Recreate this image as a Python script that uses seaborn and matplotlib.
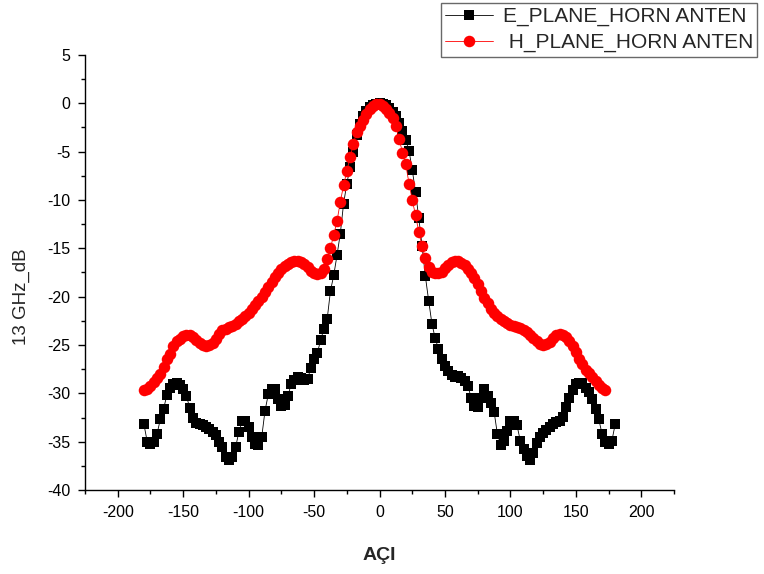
import numpy as np
import pandas as pd
import matplotlib
matplotlib.use("Agg")
import matplotlib.pyplot as plt
import seaborn as sns
from matplotlib.ticker import MultipleLocator

# ---------------- data ----------------
e_angle = [-180.0 + 2.5 * i for i in range(145)]
e_db = [
    -33.2, -35.0, -35.2, -35.0, -34.2, -32.7, -31.6, -30.2, -29.4, -29.0,   # -180 .. -157.5
    -28.9, -29.1, -29.6, -30.3, -31.5, -32.6, -33.1, -33.2, -33.3, -33.5,   # -155 .. -132.5
    -33.7, -34.0, -34.3, -35.0, -35.6, -36.6, -36.9, -36.6, -35.6, -34.0,   # -130 .. -107.5
    -32.9, -32.9, -33.5, -34.5, -35.2, -35.3, -34.5, -31.8, -30.1, -29.5,   # -105 .. -82.5
    -29.5, -30.6, -31.3, -31.2, -30.3, -29.0, -28.6, -28.3, -28.4, -28.6,   # -80 .. -57.5
    -28.5, -27.4, -26.5, -25.8, -24.5, -23.3, -22.3, -19.4, -17.8, -15.7,   # -55 .. -32.5
    -13.5, -10.4, -8.3, -6.6, -5.0, -3.3, -2.1, -1.3, -0.8, -0.4,           # -30 .. -7.5
    -0.2, -0.05, 0.0, -0.05, -0.2, -0.5, -0.9, -1.3, -2.0, -2.9,            # -5 .. 17.5
    -3.8, -4.9, -6.9, -9.2, -11.9, -14.8, -17.9, -20.4, -22.8, -24.3,       # 20 .. 42.5
    -25.4, -26.4, -27.2, -27.7, -28.1, -28.3, -28.2, -28.4, -28.7, -29.2,   # 45 .. 67.5
    -30.5, -31.3, -31.4, -30.5, -29.5, -30.3, -31.0, -31.9, -34.2, -35.3,   # 70 .. 92.5
    -34.9, -33.9, -32.9, -32.9, -33.3, -34.9, -35.8, -36.5, -36.9, -36.2,   # 95 .. 117.5
    -35.1, -34.5, -34.1, -33.8, -33.5, -33.2, -33.0, -32.9, -32.4, -31.4,   # 120 .. 142.5
    -30.5, -29.7, -29.0, -28.9, -28.9, -29.4, -29.9, -30.6, -31.6, -32.7,   # 145 .. 167.5
    -34.2, -35.0, -35.2, -34.9, -33.2,                                      # 170 .. 180
]

h_angle = [-180.0 + 2.5 * i for i in range(142)]
h_db = [
    -29.7, -29.5, -29.2, -28.8, -28.4, -28.0, -27.3, -26.5, -25.9, -25.1,   # -180 .. -157.5
    -24.6, -24.4, -24.1, -24.0, -24.0, -24.2, -24.5, -24.8, -25.0, -25.1,   # -155 .. -132.5
    -25.0, -24.8, -24.4, -23.9, -23.5, -23.3, -23.1, -23.0, -22.8, -22.5,   # -130 .. -107.5
    -22.3, -22.0, -21.7, -21.3, -20.9, -20.5, -20.0, -19.5, -19.0, -18.5,   # -105 .. -82.5
    -18.0, -17.6, -17.1, -16.8, -16.6, -16.4, -16.3, -16.3, -16.4, -16.6,   # -80 .. -57.5
    -16.9, -17.3, -17.6, -17.7, -17.6, -17.1, -16.1, -15.0, -13.6, -12.2,   # -55 .. -32.5
    -10.2, -8.5, -7.0, -5.6, -4.2, -3.0, -2.4, -1.7, -1.1, -0.6,            # -30 .. -7.5
    -0.25, -0.05, -0.05, -0.25, -0.55, -1.0, -1.5, -2.4, -3.7, -5.1,        # -5 .. 17.5
    -6.3, -8.3, -10.0, -11.6, -13.3, -14.8, -16.0, -16.9, -17.4, -17.6,     # 20 .. 42.5
    -17.6, -17.4, -17.0, -16.7, -16.4, -16.3, -16.3, -16.5, -16.7, -17.1,   # 45 .. 67.5
    -17.6, -18.1, -18.7, -19.4, -20.1, -20.7, -21.3, -21.7, -22.0, -22.3,   # 70 .. 92.5
    -22.5, -22.7, -22.9, -23.0, -23.1, -23.2, -23.4, -23.7, -24.0, -24.3,   # 95 .. 117.5
    -24.6, -24.9, -25.0, -24.9, -24.7, -24.3, -24.0, -23.9, -24.0, -24.2,   # 120 .. 142.5
    -24.6, -25.1, -25.7, -26.4, -27.0, -27.6, -27.9, -28.3, -28.7, -29.1,   # 145 .. 167.5
    -29.4, -29.7,                                                           # 170 .. 172.5
]

e_label = "E_PLANE_HORN ANTEN"
h_label = " H_PLANE_HORN ANTEN"
x_label = "AÇI"
y_label = "13 GHz_dB"
x_ticks = [-200, -150, -100, -50, 0, 50, 100, 150, 200]
y_ticks = [5, 0, -5, -10, -15, -20, -25, -30, -35, -40]

# ---------------- plot ----------------
sns.set_style("ticks")
plt.rcParams["font.family"] = ["Liberation Sans", "DejaVu Sans"]
plt.rcParams["axes.unicode_minus"] = False

fig = plt.figure(figsize=(7.64, 5.74), dpi=100)
ax = fig.add_axes([0.1113, 0.1463, 0.771, 0.758])

df_e = pd.DataFrame({"angle": e_angle, "db": e_db})
df_h = pd.DataFrame({"angle": h_angle, "db": h_db})

sns.lineplot(data=df_e, x="angle", y="db", ax=ax, color="black", linewidth=0.6,
             marker="s", markersize=6.5, markeredgewidth=0, markerfacecolor="black",
             label=e_label, zorder=2, sort=False)
sns.lineplot(data=df_h, x="angle", y="db", ax=ax, color="red", linewidth=0.6,
             marker="o", markersize=8.3, markeredgewidth=0, markerfacecolor="red",
             label=h_label, zorder=3, sort=False)

ax.set_xlim(-225, 225)
ax.set_ylim(-40, 5)
ax.set_xticks(x_ticks)
ax.set_yticks(y_ticks)
ax.xaxis.set_minor_locator(MultipleLocator(25))
ax.yaxis.set_minor_locator(MultipleLocator(2.5))
ax.tick_params(axis="both", which="major", direction="out", length=5, width=1.0,
               labelsize=11.5, pad=5.5, color="black", labelcolor="black")
ax.tick_params(axis="both", which="minor", direction="out", length=3, width=1.0,
               color="black")
sns.despine(ax=ax)
for s in ["left", "bottom"]:
    ax.spines[s].set_color("black")
    ax.spines[s].set_linewidth(1.0)

ax.set_xlabel(x_label, fontsize=14, fontweight="bold", labelpad=20)
ax.set_ylabel(y_label, fontsize=13.5)
ax.yaxis.set_label_coords(-0.093, 0.444)

leg = ax.legend(loc="upper right", bbox_to_anchor=(0.991, 0.995),
                bbox_transform=fig.transFigure, frameon=True, fancybox=False,
                fontsize=15, handlelength=2.3, handletextpad=0.45,
                borderpad=0.2, labelspacing=0.33, borderaxespad=0)
leg.get_frame().set_edgecolor("#444444")
leg.get_frame().set_linewidth(1.0)

fig.savefig("out.png", dpi=100)
